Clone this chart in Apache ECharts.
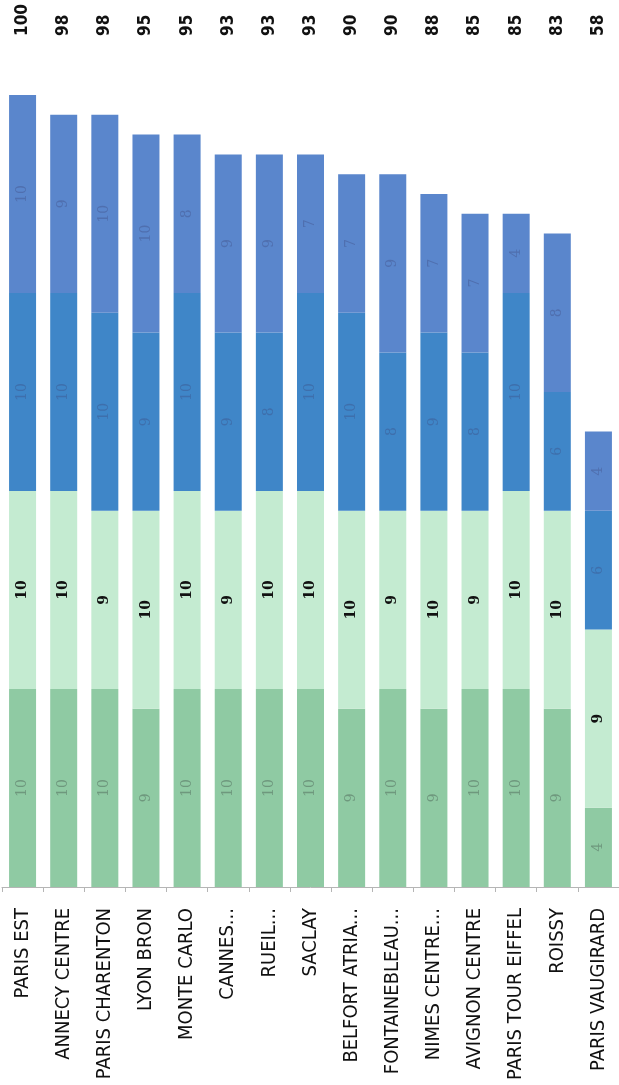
<!DOCTYPE html>
<html>
<head>
<meta charset="utf-8">
<script src="https://cdn.jsdelivr.net/npm/echarts@6/dist/echarts.min.js"></script>
<style>
html,body{margin:0;padding:0;background:#fff;}
#chart{width:619px;height:1085px;}
</style>
</head>
<body>
<div id="chart"></div>
<script>
const categories = ['PARIS EST','ANNECY CENTRE','PARIS CHARENTON','LYON BRON','MONTE CARLO','CANNES...','RUEIL...','SACLAY','BELFORT ATRIA...','FONTAINEBLEAU...','NIMES CENTRE...','AVIGNON CENTRE','PARIS TOUR EIFFEL','ROISSY','PARIS VAUGIRARD'];
const seg1 = [10,10,10,9,10,10,10,10,9,10,9,10,10,9,4];
const seg2 = [10,10,9,10,10,9,10,10,10,9,10,9,10,10,9];
const seg3 = [10,10,10,9,10,9,8,10,10,8,9,8,10,6,6];
const seg4 = [10,9,10,10,8,9,9,7,7,9,7,7,4,8,4];
const totals = [100,98,98,95,95,93,93,93,90,90,88,85,85,83,58];

const narrow = "'Liberation Sans Narrow','DejaVu Sans Condensed','Liberation Sans',Arial,sans-serif";

function seg(name, data, color, labelStyle) {
  return {
    name: name, type: 'bar', stack: 'score', data: data, barWidth: 27,
    itemStyle: { color: color },
    label: Object.assign({ show: true, position: 'inside', rotate: 90 }, labelStyle)
  };
}

const chart = echarts.init(document.getElementById('chart'), null, { renderer: 'canvas' });
chart.setOption({
  animation: false,
  grid: { left: 2, right: -7, top: 95, bottom: 198, containLabel: false },
  xAxis: [
    {
      type: 'category', data: categories, position: 'bottom',
      axisLine: { show: true, lineStyle: { color: '#b5b5b5', width: 1 } },
      axisTick: { show: true, length: 5, lineStyle: { color: '#b5b5b5' } },
      axisLabel: { rotate: 90, interval: 0, margin: 21, color: '#111', fontSize: 20, fontFamily: narrow }
    },
    {
      type: 'category', data: categories, position: 'top',
      axisLine: { show: false }, axisTick: { show: false },
      axisLabel: { rotate: -90, interval: 0, margin: 59, color: '#111', fontSize: 17, fontWeight: 'bold', fontFamily: narrow,
        formatter: function (v, i) { return String(totals[i]); } }
    }
  ],
  yAxis: { type: 'value', min: 0, max: 40, show: false, splitLine: { show: false } },
  series: [
    seg('s1', seg1, '#8fcaa3', { color: 'rgba(70,90,80,0.45)', fontSize: 14, fontFamily: "'DejaVu Serif',serif" }),
    seg('s2', seg2, '#c4ebd1', { color: '#111', fontSize: 14, fontWeight: 'bold', fontFamily: "'DejaVu Serif',serif" }),
    seg('s3', seg3, '#3f86c8', { color: 'rgba(60,70,120,0.35)', fontSize: 14, fontFamily: "'DejaVu Serif',serif" }),
    seg('s4', seg4, '#5a86cc', { color: 'rgba(60,70,120,0.35)', fontSize: 14, fontFamily: "'DejaVu Serif',serif" })
  ]
});
</script>
</body>
</html>
